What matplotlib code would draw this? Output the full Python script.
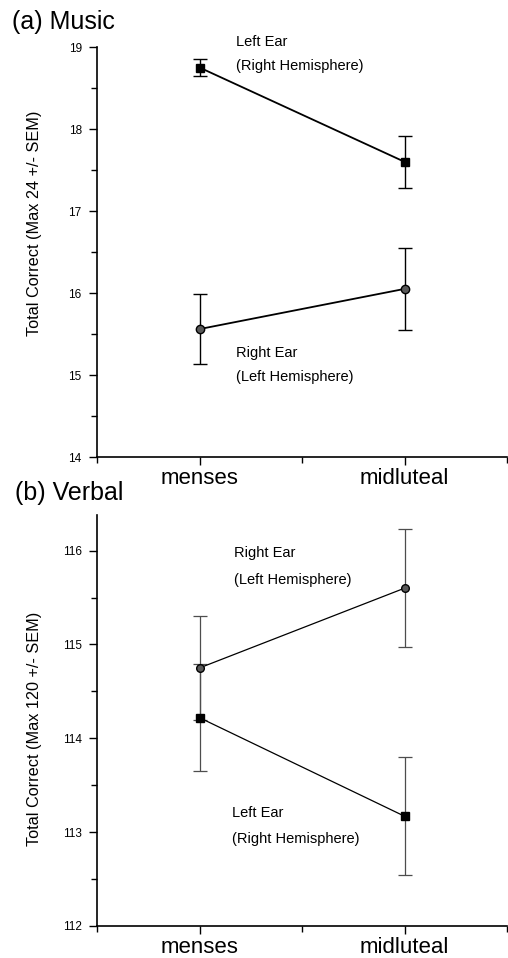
import numpy as np
import matplotlib.pyplot as plt
from matplotlib.ticker import MultipleLocator

# cycle phases
phases = ["menses", "midluteal"]
xpos = [1, 2]

# (a) music: total correct, max 24
music_left = [18.75, 17.60]
music_left_sem = [0.10, 0.32]
music_right = [15.56, 16.05]
music_right_sem = [0.43, 0.50]

# (b) verbal: total correct, max 120
verbal_right = [114.75, 115.60]
verbal_right_sem = [0.55, 0.63]
verbal_left = [114.22, 113.17]
verbal_left_sem = [0.57, 0.63]

plt.rcParams['font.family'] = ['Liberation Sans', 'DejaVu Sans']

fig = plt.figure(figsize=(5.08, 9.58), dpi=100)
W, H = 508.0, 958.0

ax1 = fig.add_axes([97 / W, 1 - 457 / H, 410 / W, 410 / H])
ax2 = fig.add_axes([97 / W, 1 - 926 / H, 410 / W, 411 / H])


def style_axis(ax, ymin, ymax, label, label_y):
    ax.set_xlim(0.5, 2.5)
    ax.set_ylim(ymin, ymax)
    for s in ["top", "right"]:
        ax.spines[s].set_visible(False)
    ax.spines["left"].set_linewidth(1.2)
    ax.spines["bottom"].set_linewidth(1.2)
    ax.set_xticks(xpos)
    ax.set_xticklabels(phases, fontsize=16)
    ax.xaxis.set_minor_locator(MultipleLocator(0.5))
    ax.yaxis.set_major_locator(MultipleLocator(1))
    ax.yaxis.set_minor_locator(MultipleLocator(0.5))
    ax.tick_params(axis="both", which="major", direction="out", length=6, width=1, pad=5)
    ax.tick_params(axis="both", which="minor", direction="out", length=4.5, width=1)
    ax.tick_params(axis="x", which="major", pad=2)
    for t in ax.get_yticklabels():
        t.set_fontsize(8.5)
        t.set_family(['Liberation Sans Narrow', 'Liberation Sans'])
    ax.set_ylabel(label, fontsize=11.7)
    ax.yaxis.set_label_coords(-0.134, label_y)


style_axis(ax1, 14, 19, "Total Correct (Max 24 +/- SEM)", 0.57)
style_axis(ax2, 112, 116.38, "Total Correct (Max 120 +/- SEM)", 0.48)

# top panel
ax1.errorbar(xpos, music_left, yerr=music_left_sem, color="black", lw=1.3,
             elinewidth=1, capsize=5, capthick=1, marker="s", ms=6,
             mfc="black", mec="black", clip_on=False, zorder=3)
ax1.errorbar(xpos, music_right, yerr=music_right_sem, color="black", lw=1.3,
             elinewidth=1, capsize=5, capthick=1, marker="o", ms=6,
             mfc="0.35", mec="black", clip_on=False, zorder=3)
ax1.text(1.18, 19.06, "Left Ear", fontsize=10.5, va="center", ha="left")
ax1.text(1.18, 18.77, "(Right Hemisphere)", fontsize=10.5, va="center", ha="left")
ax1.text(1.18, 15.27, "Right Ear", fontsize=10.5, va="center", ha="left")
ax1.text(1.18, 14.97, "(Left Hemisphere)", fontsize=10.5, va="center", ha="left")

# bottom panel
ax2.errorbar(xpos, verbal_right, yerr=verbal_right_sem, color="black", lw=0.9,
             elinewidth=0.9, ecolor="0.3", capsize=5, capthick=0.9, marker="o",
             ms=5.5, mfc="0.35", mec="black", zorder=3)
ax2.errorbar(xpos, verbal_left, yerr=verbal_left_sem, color="black", lw=0.9,
             elinewidth=0.9, ecolor="0.3", capsize=5, capthick=0.9, marker="s",
             ms=6, mfc="black", mec="black", zorder=3)
ax2.text(1.17, 115.97, "Right Ear", fontsize=10.5, va="center", ha="left")
ax2.text(1.17, 115.69, "(Left Hemisphere)", fontsize=10.5, va="center", ha="left")
ax2.text(1.16, 113.2, "Left Ear", fontsize=10.5, va="center", ha="left")
ax2.text(1.16, 112.93, "(Right Hemisphere)", fontsize=10.5, va="center", ha="left")

fig.text(12 / W, 1 - 22 / H, "(a) Music", fontsize=18, va="center", ha="left")
fig.text(15 / W, 1 - 493 / H, "(b) Verbal", fontsize=18, va="center", ha="left")

fig.savefig("out.png", dpi=100)
